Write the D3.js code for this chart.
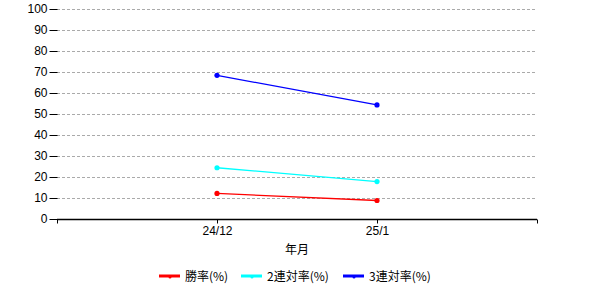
<!DOCTYPE html>
<html><head><meta charset="utf-8">
<script src="https://cdn.jsdelivr.net/npm/d3@7"></script>
<style>body{margin:0;background:#fff}svg{display:block}</style>
</head><body>
<svg id="c" width="600" height="300"></svg>
<script>
const categories = ["24/12", "25/1"];
const winRate = [12.2, 8.8];
const top2Rate = [24.4, 17.8];
const top3Rate = [68.4, 54.3];
const yTicks = [0,10,20,30,40,50,60,70,80,90,100];
const seriesNames = ["勝率(%)", "2連対率(%)", "3連対率(%)"];
const seriesColors = ["#ff0000", "#00ffff", "#0000ff"];
const xTitle = "年月";

(function(){
const series = [winRate, top2Rate, top3Rate].map((v,i)=>({name:seriesNames[i], color:seriesColors[i], values:v}));

const svg = d3.select("#c");
const mLeft = 57, mRight = 537, mTop = 9, mBottom = 219;
const x = d3.scaleLinear().domain([0, categories.length + 1]).range([mLeft, mRight]);
const y = d3.scaleLinear().domain([0, 100]).range([mBottom, mTop]);
const font = "'Liberation Sans', Arial, sans-serif";

svg.append("g").selectAll("line").data(yTicks.filter(d=>d>0)).join("line")
  .attr("x1", mLeft).attr("x2", mRight)
  .attr("y1", d=>Math.round(y(d))+0.5).attr("y2", d=>Math.round(y(d))+0.5)
  .attr("stroke", "#aaaaaa").attr("stroke-dasharray", "3,2");

const ya = svg.append("g").attr("transform", `translate(${mLeft+0.5},0)`)
  .call(d3.axisLeft(y).tickValues(yTicks).tickSize(8).tickPadding(2).tickFormat(d3.format("d")));
ya.select(".domain").remove();
ya.selectAll(".tick line").attr("stroke", "#000");
ya.selectAll("text").attr("font-family", font).attr("font-size", 12).attr("fill", "#000");

const xa = svg.append("g").attr("transform", `translate(0,${mBottom+0.5})`)
  .call(d3.axisBottom(x).tickValues([0,1,2,3]).tickSize(4).tickPadding(3)
    .tickFormat(d => (d>=1 && d<=categories.length) ? categories[d-1] : ""));
xa.select(".domain").attr("stroke", "#000").attr("stroke-width", 1.5).attr("d", `M${mLeft},0H${mRight}`);
xa.selectAll(".tick line").attr("stroke", "#000");
xa.selectAll("text").attr("font-family", font).attr("font-size", 12).attr("fill", "#000");

svg.append("text").attr("x", (mLeft+mRight)/2).attr("y", 254).attr("text-anchor", "middle")
  .attr("font-family", "'Noto Sans CJK JP', sans-serif").attr("font-size", 12).text(xTitle);

const line = d3.line().x((d,i)=>x(i+1)).y(d=>y(d));
series.forEach(s => {
  svg.append("path").attr("d", line(s.values)).attr("fill", "none")
    .attr("stroke", s.color).attr("stroke-width", 1.3);
  svg.append("g").selectAll("circle").data(s.values).join("circle")
    .attr("cx", (d,i)=>x(i+1)).attr("cy", d=>y(d)).attr("r", 2.6).attr("fill", s.color);
});

const legX = [159, 241, 343];
series.forEach((s,i) => {
  const g = svg.append("g").attr("transform", `translate(${legX[i]},276)`);
  g.append("line").attr("x1", 0).attr("x2", 21).attr("y1", 0).attr("y2", 0)
    .attr("stroke", s.color).attr("stroke-width", 3);
  g.append("circle").attr("cx", 11).attr("cy", 1).attr("r", 1.5).attr("fill", s.color);
  g.append("text").attr("x", 26).attr("y", 4.5).attr("font-family", "'Noto Sans CJK JP', sans-serif")
    .attr("font-size", 12).text(s.name);
});
})();
</script>
</body></html>
